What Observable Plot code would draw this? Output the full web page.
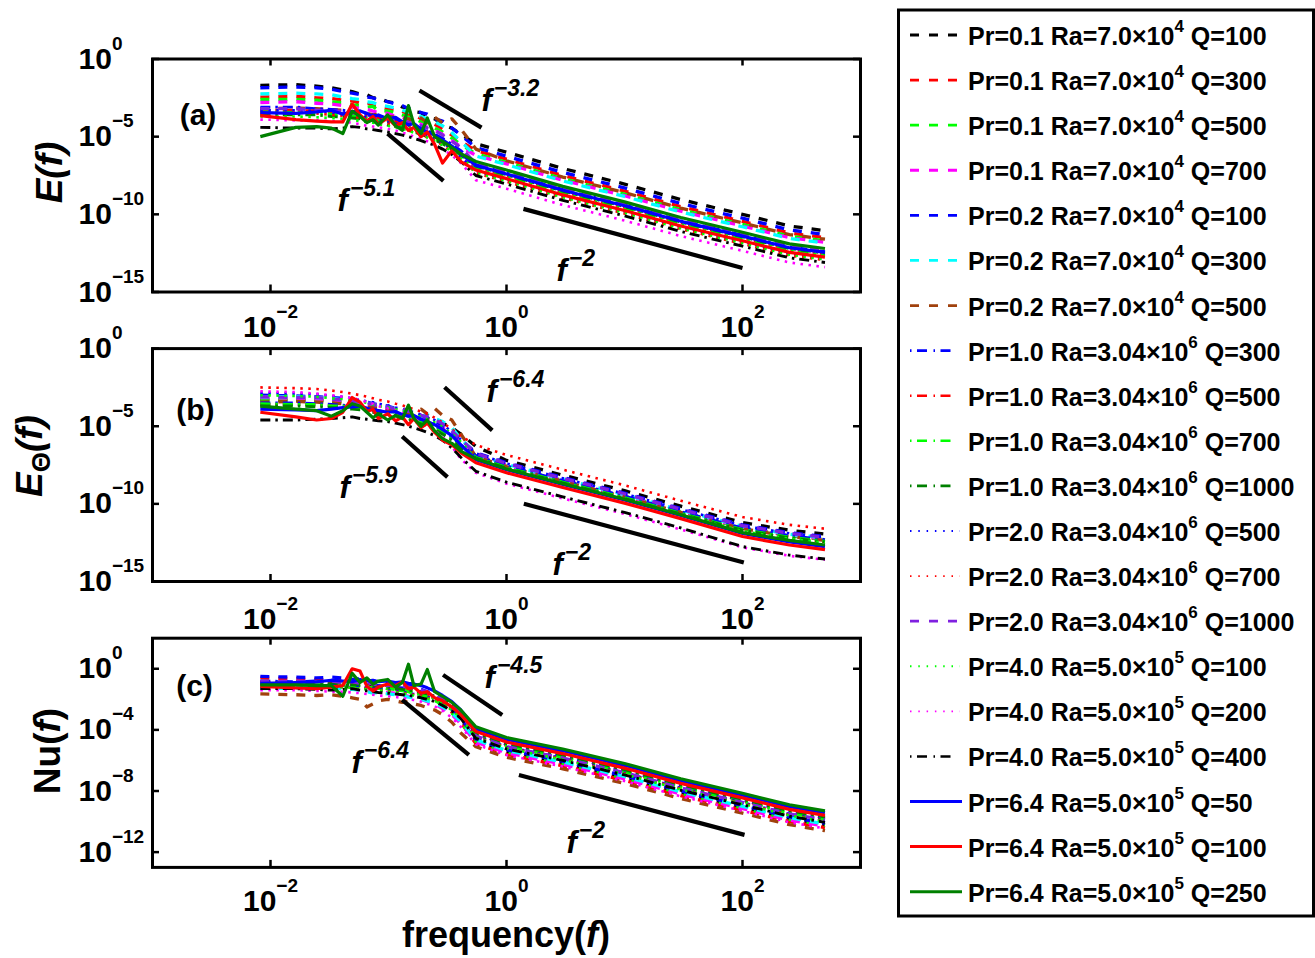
<!DOCTYPE html>
<html>
<head>
<meta charset="utf-8">
<script src="https://cdn.jsdelivr.net/npm/d3@7"></script>
<script src="https://cdn.jsdelivr.net/npm/@observablehq/plot@0.6"></script>
<style>
  html, body { margin: 0; padding: 0; background: #fff; overflow: hidden; }
  #wrap { position: relative; width: 1315px; height: 958px; font-family: "Liberation Sans", Arial, sans-serif; }
  #wrap svg { position: absolute; left: 0; overflow: visible; }
</style>
</head>
<body>
<div id="wrap"></div>
<script>
// ---------------- DATA ----------------
const freq = [0.0082, 0.0164, 0.0246, 0.0328, 0.041, 0.0492, 0.0574, 0.0656, 0.0738, 0.082, 0.0984, 0.1148, 0.1312, 0.1476, 0.164, 0.1886, 0.2132, 0.246, 0.287, 0.3444, 0.41, 0.55, 1, 3, 10, 30, 100, 250, 500];

const seriesLabels = [
  "Pr=0.1 Ra=7.0×10^4 Q=100", "Pr=0.1 Ra=7.0×10^4 Q=300", "Pr=0.1 Ra=7.0×10^4 Q=500", "Pr=0.1 Ra=7.0×10^4 Q=700",
  "Pr=0.2 Ra=7.0×10^4 Q=100", "Pr=0.2 Ra=7.0×10^4 Q=300", "Pr=0.2 Ra=7.0×10^4 Q=500",
  "Pr=1.0 Ra=3.04×10^6 Q=300", "Pr=1.0 Ra=3.04×10^6 Q=500", "Pr=1.0 Ra=3.04×10^6 Q=700", "Pr=1.0 Ra=3.04×10^6 Q=1000",
  "Pr=2.0 Ra=3.04×10^6 Q=500", "Pr=2.0 Ra=3.04×10^6 Q=700", "Pr=2.0 Ra=3.04×10^6 Q=1000",
  "Pr=4.0 Ra=5.0×10^5 Q=100", "Pr=4.0 Ra=5.0×10^5 Q=200", "Pr=4.0 Ra=5.0×10^5 Q=400",
  "Pr=6.4 Ra=5.0×10^5 Q=50", "Pr=6.4 Ra=5.0×10^5 Q=100", "Pr=6.4 Ra=5.0×10^5 Q=250"
];

// log10 of E(f) for each series (same order as labels), at the frequencies above
const logE = [
  [-1.7,-1.65,-1.75,-1.85,-2.0,-2.1,-2.25,-2.3,-2.5,-2.5,-2.75,-2.85,-3.1,-3.15,-3.4,-3.45,-3.75,-3.85,-4.25,-4.45,-4.85,-5.45,-6.0,-7.05,-8.05,-9.05,-10.0,-10.75,-11.05],
  [-2.45,-2.4,-2.5,-2.55,-2.65,-2.7,-2.85,-2.8,-3.0,-3.05,-3.2,-3.3,-3.35,-3.6,-3.55,-3.85,-3.95,-4.2,-4.5,-4.9,-5.3,-5.9,-6.45,-7.5,-8.5,-9.5,-10.45,-11.2,-11.5],
  [-2.6,-2.6,-2.65,-2.75,-2.8,-2.95,-3.0,-3.1,-3.05,-3.3,-3.35,-3.45,-3.6,-3.75,-3.8,-4.05,-4.2,-4.45,-4.7,-5.1,-5.5,-6.1,-6.65,-7.7,-8.7,-9.7,-10.65,-11.4,-11.7],
  [-2.8,-2.75,-2.85,-2.9,-3.0,-3.1,-3.2,-3.25,-3.35,-3.45,-3.5,-3.7,-3.75,-3.9,-4.05,-4.2,-4.4,-4.6,-4.85,-5.25,-5.65,-6.2,-6.75,-7.8,-8.8,-9.8,-10.75,-11.5,-11.8],
  [-1.85,-1.8,-1.85,-1.95,-2.1,-2.2,-2.3,-2.45,-2.5,-2.65,-2.75,-2.9,-3.0,-3.2,-3.25,-3.45,-3.55,-3.85,-4.0,-4.45,-4.9,-5.7,-6.25,-7.3,-8.3,-9.3,-10.25,-11.0,-11.3],
  [-2.25,-2.2,-2.25,-2.3,-2.45,-2.55,-2.6,-2.75,-2.8,-2.95,-3.05,-3.15,-3.3,-3.4,-3.55,-3.7,-3.85,-4.05,-4.3,-4.75,-5.3,-6.25,-6.8,-7.85,-8.85,-9.85,-10.8,-11.55,-11.85],
  [-3.2,-3.15,-3.2,-3.25,-3.3,-3.4,-3.45,-3.5,-3.6,-3.55,-3.7,-3.75,-3.8,-3.85,-4.0,-3.8,-4.1,-3.75,-4.1,-3.85,-4.5,-5.8,-6.55,-7.6,-8.6,-9.6,-10.55,-11.3,-11.6],
  [-3.1,-3.1,-3.2,-3.25,-3.3,-3.4,-3.35,-3.55,-3.6,-3.7,-3.75,-3.9,-4.05,-4.1,-4.3,-4.45,-4.6,-4.85,-5.1,-5.5,-5.9,-6.8,-7.35,-8.4,-9.4,-10.4,-11.35,-12.1,-12.4],
  [-3.3,-3.3,-3.35,-3.4,-3.5,-3.5,-3.6,-3.7,-3.7,-3.85,-3.95,-4.05,-4.25,-4.3,-4.5,-4.6,-4.8,-5.0,-5.3,-5.7,-6.1,-6.95,-7.5,-8.55,-9.55,-10.55,-11.5,-12.25,-12.55],
  [-3.4,-3.45,-3.45,-3.55,-3.6,-3.65,-3.7,-3.8,-3.85,-3.95,-4.05,-4.2,-4.3,-4.45,-4.6,-4.75,-4.9,-5.15,-5.4,-5.8,-6.2,-7.05,-7.6,-8.65,-9.65,-10.65,-11.6,-12.35,-12.65],
  [-3.6,-3.6,-3.6,-3.7,-3.75,-3.8,-3.85,-3.95,-4.05,-4.1,-4.25,-4.35,-4.45,-4.6,-4.7,-4.85,-5.0,-5.2,-5.45,-5.8,-6.15,-6.9,-7.45,-8.5,-9.5,-10.5,-11.45,-12.2,-12.5],
  [-3.3,-3.3,-3.35,-3.45,-3.5,-3.55,-3.65,-3.75,-3.8,-3.9,-4.05,-4.15,-4.3,-4.4,-4.55,-4.7,-4.9,-5.1,-5.4,-5.8,-6.3,-7.2,-7.75,-8.8,-9.8,-10.8,-11.75,-12.5,-12.8],
  [-3.5,-3.45,-3.5,-3.6,-3.65,-3.7,-3.8,-3.9,-3.95,-4.05,-4.15,-4.3,-4.45,-4.55,-4.7,-4.85,-5.05,-5.25,-5.55,-5.95,-6.4,-7.35,-7.9,-8.95,-9.95,-10.95,-11.9,-12.65,-12.95],
  [-3.2,-3.2,-3.3,-3.35,-3.35,-3.45,-3.55,-3.6,-3.7,-3.75,-3.8,-3.95,-3.9,-4.1,-4.1,-4.3,-4.45,-4.6,-4.9,-5.3,-5.7,-6.75,-7.3,-8.35,-9.35,-10.35,-11.3,-12.05,-12.35],
  [-3.7,-3.7,-3.75,-3.8,-3.85,-3.9,-4.0,-4.05,-4.1,-4.2,-4.3,-4.4,-4.5,-4.6,-4.75,-4.9,-5.05,-5.3,-5.55,-5.95,-6.4,-7.3,-7.85,-8.9,-9.9,-10.9,-11.85,-12.6,-12.9],
  [-3.9,-3.95,-3.95,-4.0,-4.05,-4.1,-4.2,-4.3,-4.35,-4.4,-4.5,-4.6,-4.75,-4.85,-5.0,-5.15,-5.3,-5.5,-5.8,-6.2,-6.7,-7.8,-8.35,-9.4,-10.4,-11.4,-12.35,-13.1,-13.4],
  [-4.4,-4.45,-4.45,-4.5,-4.45,-4.35,-4.4,-4.5,-4.55,-4.6,-4.7,-4.8,-4.9,-5.0,-5.1,-5.25,-5.4,-5.55,-5.8,-6.15,-6.6,-7.5,-8.05,-9.1,-10.1,-11.1,-12.05,-12.8,-13.1],
  [-3.45,-3.5,-3.4,-3.3,-3.55,-3.4,-3.35,-3.5,-3.7,-3.6,-3.85,-3.75,-4.05,-4.25,-4.15,-4.5,-4.7,-4.9,-5.2,-5.6,-6.1,-6.85,-7.4,-8.45,-9.45,-10.45,-11.4,-12.15,-12.45],
  [-3.65,-3.9,-4.0,-4.05,-4.05,-2.9,-3.6,-4.0,-3.7,-4.2,-3.8,-4.3,-4.1,-4.6,-4.4,-5.0,-4.7,-5.5,-6.7,-5.9,-6.6,-7.15,-7.7,-8.75,-9.75,-10.75,-11.7,-12.45,-12.75],
  [-5.0,-4.4,-4.35,-4.45,-4.8,-3.35,-3.7,-4.1,-3.9,-4.25,-3.6,-4.3,-4.6,-3.0,-4.2,-4.8,-3.8,-5.0,-5.3,-5.7,-6.1,-6.6,-7.15,-8.2,-9.2,-10.2,-11.15,-11.9,-12.2]
];

// log10 of E_Theta(f)
const logTheta = [
  [-3.3,-3.35,-3.3,-3.4,-3.45,-3.5,-3.6,-3.65,-3.7,-3.8,-3.9,-4.0,-4.1,-4.2,-4.3,-4.4,-4.5,-4.6,-4.8,-5.1,-5.5,-6.3,-7.2,-8.15,-9.15,-10.15,-11.2,-11.7,-11.95],
  [-3.2,-3.25,-3.3,-3.35,-3.4,-3.5,-3.55,-3.65,-3.7,-3.8,-3.9,-4.0,-4.15,-4.25,-4.35,-4.5,-4.65,-4.85,-5.15,-5.5,-6.0,-6.9,-7.55,-8.5,-9.5,-10.5,-11.55,-12.05,-12.3],
  [-3.3,-3.3,-3.35,-3.45,-3.5,-3.55,-3.65,-3.7,-3.8,-3.9,-4.0,-4.1,-4.2,-4.35,-4.45,-4.6,-4.75,-4.95,-5.2,-5.6,-6.1,-6.9,-7.55,-8.5,-9.5,-10.5,-11.55,-12.05,-12.3],
  [-3.15,-3.2,-3.25,-3.3,-3.4,-3.45,-3.55,-3.6,-3.7,-3.75,-3.9,-4.0,-4.1,-4.25,-4.35,-4.5,-4.6,-4.8,-5.1,-5.5,-6.0,-6.85,-7.5,-8.45,-9.45,-10.45,-11.5,-12.0,-12.25],
  [-3.0,-3.05,-3.1,-3.15,-3.2,-3.3,-3.35,-3.45,-3.55,-3.6,-3.7,-3.85,-3.95,-4.05,-4.2,-4.3,-4.45,-4.65,-4.95,-5.35,-5.85,-6.7,-7.35,-8.3,-9.3,-10.3,-11.35,-11.85,-12.1],
  [-3.1,-3.1,-3.15,-3.2,-3.3,-3.35,-3.45,-3.5,-3.6,-3.7,-3.75,-3.9,-4.0,-4.1,-4.2,-4.35,-4.25,-4.5,-4.7,-5.1,-5.8,-6.8,-7.45,-8.4,-9.4,-10.4,-11.45,-11.95,-12.2],
  [-3.45,-3.4,-3.45,-3.5,-3.55,-3.6,-3.7,-3.75,-3.8,-3.85,-3.95,-4.0,-4.1,-4.2,-4.1,-3.9,-4.2,-3.85,-4.3,-4.6,-5.5,-6.95,-7.6,-8.55,-9.55,-10.55,-11.6,-12.1,-12.35],
  [-3.5,-3.5,-3.55,-3.6,-3.65,-3.7,-3.75,-3.85,-3.9,-4.0,-4.1,-4.2,-4.3,-4.4,-4.5,-4.65,-4.8,-5.0,-5.3,-5.7,-6.2,-6.9,-7.55,-8.5,-9.5,-10.5,-11.55,-12.05,-12.3],
  [-3.6,-3.6,-3.65,-3.7,-3.75,-3.8,-3.85,-3.95,-4.0,-4.1,-4.2,-4.3,-4.4,-4.5,-4.65,-4.8,-4.95,-5.15,-5.45,-5.85,-6.35,-7.05,-7.7,-8.65,-9.65,-10.65,-11.7,-12.2,-12.45],
  [-3.55,-3.6,-3.6,-3.7,-3.7,-3.8,-3.85,-3.9,-4.0,-4.05,-4.15,-4.3,-4.4,-4.5,-4.6,-4.75,-4.9,-5.1,-5.4,-5.8,-6.3,-7.0,-7.65,-8.6,-9.6,-10.6,-11.65,-12.15,-12.4],
  [-3.7,-3.7,-3.75,-3.8,-3.85,-3.9,-3.95,-4.0,-4.1,-4.15,-4.25,-4.35,-4.45,-4.55,-4.7,-4.85,-5.0,-5.2,-5.5,-5.9,-6.4,-7.05,-7.7,-8.65,-9.65,-10.65,-11.7,-12.2,-12.45],
  [-2.85,-2.9,-2.95,-3.05,-3.1,-3.2,-3.3,-3.4,-3.45,-3.55,-3.65,-3.8,-3.9,-4.0,-4.1,-4.25,-4.4,-4.6,-4.9,-5.35,-5.85,-6.75,-7.4,-8.35,-9.35,-10.35,-11.4,-11.9,-12.15],
  [-2.5,-2.55,-2.6,-2.7,-2.8,-2.9,-3.0,-3.1,-3.2,-3.3,-3.4,-3.55,-3.65,-3.8,-3.9,-4.05,-4.2,-4.45,-4.75,-5.2,-5.65,-6.2,-6.85,-7.8,-8.8,-9.8,-10.85,-11.35,-11.6],
  [-3.1,-3.15,-3.15,-3.25,-3.3,-3.4,-3.45,-3.5,-3.6,-3.65,-3.75,-3.9,-3.85,-4.05,-4.1,-4.3,-4.4,-4.55,-4.85,-5.3,-5.85,-6.75,-7.4,-8.35,-9.35,-10.35,-11.4,-11.9,-12.15],
  [-3.0,-3.05,-3.1,-3.2,-3.25,-3.35,-3.4,-3.5,-3.6,-3.7,-3.8,-3.9,-4.0,-4.15,-4.25,-4.4,-4.55,-4.75,-5.05,-5.5,-6.0,-7.1,-7.75,-8.7,-9.7,-10.7,-11.75,-12.25,-12.5],
  [-2.75,-2.8,-2.9,-3.0,-3.1,-3.2,-3.3,-3.45,-3.55,-3.7,-3.85,-4.0,-4.15,-4.3,-4.5,-4.7,-4.95,-5.25,-5.7,-6.3,-7.1,-8.0,-8.7,-9.65,-10.65,-11.65,-12.8,-13.35,-13.6],
  [-4.6,-4.6,-4.55,-4.5,-4.45,-4.4,-4.5,-4.55,-4.6,-4.65,-4.7,-4.8,-4.9,-5.0,-5.1,-5.25,-5.4,-5.6,-5.9,-6.4,-7.0,-7.9,-8.6,-9.55,-10.55,-11.55,-12.75,-13.3,-13.55],
  [-3.9,-3.95,-4.0,-3.9,-3.8,-3.75,-3.7,-3.85,-3.95,-4.0,-4.1,-4.05,-4.25,-4.35,-4.3,-4.55,-4.7,-4.9,-5.2,-5.6,-6.2,-7.15,-7.8,-8.75,-9.75,-10.75,-11.9,-12.45,-12.75],
  [-4.1,-4.4,-4.6,-4.5,-4.1,-3.15,-3.45,-4.05,-3.9,-4.5,-4.2,-4.65,-4.4,-4.9,-4.5,-5.1,-4.8,-5.4,-5.9,-6.2,-6.7,-7.35,-8.0,-8.95,-9.95,-10.95,-12.1,-12.65,-12.95],
  [-3.7,-3.9,-4.0,-4.35,-4.0,-3.55,-3.7,-4.1,-4.45,-4.2,-4.6,-4.3,-4.5,-3.65,-4.5,-5.0,-4.6,-5.3,-5.8,-6.1,-6.6,-7.1,-7.75,-8.7,-9.7,-10.7,-11.85,-12.35,-12.65]
];

// log10 of Nu(f)
const logNu = [
  [-0.9,-0.85,-0.9,-0.95,-0.85,-0.9,-1.0,-0.95,-1.05,-1.0,-1.1,-1.15,-1.2,-1.3,-1.35,-1.45,-1.6,-1.85,-2.2,-2.7,-3.3,-4.7,-5.4,-6.15,-7.1,-8.1,-9.05,-9.8,-10.2],
  [-0.6,-0.65,-0.7,-0.75,-0.8,-0.85,-0.95,-0.9,-1.0,-1.05,-1.1,-1.2,-1.25,-1.3,-1.4,-1.5,-1.7,-1.95,-2.3,-2.85,-3.5,-4.9,-5.6,-6.35,-7.3,-8.3,-9.25,-10.0,-10.4],
  [-1.1,-1.0,-0.95,-1.0,-1.1,-1.05,-1.15,-1.2,-1.25,-1.2,-1.3,-1.35,-1.4,-1.5,-1.6,-1.7,-1.85,-2.05,-2.4,-2.9,-3.5,-4.75,-5.45,-6.2,-7.15,-8.15,-9.1,-9.85,-10.25],
  [-1.2,-1.15,-1.2,-1.25,-1.3,-1.25,-1.35,-1.4,-1.45,-1.5,-1.55,-1.6,-1.7,-1.8,-1.9,-2.0,-2.15,-2.3,-2.6,-3.0,-3.6,-4.8,-5.5,-6.25,-7.2,-8.2,-9.15,-9.9,-10.3],
  [-0.5,-0.55,-0.6,-0.55,-0.6,-0.7,-0.65,-0.75,-0.8,-0.85,-0.9,-0.95,-1.0,-1.1,-1.2,-1.35,-1.5,-1.75,-2.1,-2.6,-3.2,-4.6,-5.3,-6.05,-7.0,-8.0,-8.95,-9.7,-10.1],
  [-1.3,-1.25,-1.2,-1.25,-1.3,-1.35,-1.4,-1.5,-1.6,-1.55,-1.65,-1.7,-1.75,-1.85,-1.9,-2.0,-2.1,-2.25,-2.5,-2.9,-3.45,-4.65,-5.35,-6.1,-7.05,-8.05,-9.0,-9.75,-10.15],
  [-1.65,-1.7,-1.75,-1.7,-1.8,-1.9,-2.0,-2.5,-2.3,-2.1,-2.0,-2.1,-2.2,-2.15,-2.3,-2.4,-2.55,-2.7,-3.0,-3.5,-4.2,-5.1,-5.8,-6.55,-7.5,-8.5,-9.45,-10.2,-10.6],
  [-0.8,-0.85,-0.8,-0.9,-0.85,-0.9,-0.95,-1.0,-1.05,-1.1,-1.15,-1.2,-1.25,-1.35,-1.45,-1.5,-1.65,-1.8,-2.05,-2.4,-2.9,-4.25,-4.95,-5.7,-6.65,-7.65,-8.6,-9.35,-9.75],
  [-0.9,-0.95,-0.9,-1.0,-0.95,-1.0,-1.05,-1.1,-1.15,-1.2,-1.25,-1.3,-1.35,-1.45,-1.5,-1.6,-1.75,-1.9,-2.15,-2.5,-3.0,-4.3,-5.0,-5.75,-6.7,-7.7,-8.65,-9.4,-9.8],
  [-1.0,-1.0,-1.05,-1.05,-1.1,-1.15,-1.15,-1.2,-1.25,-1.3,-1.35,-1.4,-1.45,-1.5,-1.6,-1.7,-1.8,-1.95,-2.2,-2.55,-3.05,-4.35,-5.05,-5.8,-6.75,-7.75,-8.7,-9.45,-9.85],
  [-0.95,-0.9,-0.95,-1.0,-1.0,-1.05,-1.1,-1.1,-1.15,-1.2,-1.2,-1.3,-1.35,-1.4,-1.45,-1.55,-1.65,-1.8,-2.05,-2.35,-2.85,-4.2,-4.9,-5.65,-6.6,-7.6,-8.55,-9.3,-9.7],
  [-1.0,-1.05,-1.1,-1.1,-1.15,-1.2,-1.2,-1.25,-1.3,-1.35,-1.4,-1.45,-1.5,-1.6,-1.65,-1.75,-1.85,-2.0,-2.25,-2.6,-3.1,-4.4,-5.1,-5.85,-6.8,-7.8,-8.75,-9.5,-9.9],
  [-1.05,-1.1,-1.1,-1.15,-1.2,-1.25,-1.3,-1.3,-1.35,-1.4,-1.45,-1.5,-1.55,-1.65,-1.7,-1.8,-1.9,-2.05,-2.3,-2.65,-3.15,-4.45,-5.15,-5.9,-6.85,-7.85,-8.8,-9.55,-9.95],
  [-0.85,-0.8,-0.85,-0.8,-0.9,-0.85,-0.95,-0.9,-1.0,-1.05,-1.1,-1.0,-1.15,-1.2,-1.3,-1.4,-1.5,-1.7,-1.95,-2.35,-2.9,-4.4,-5.1,-5.85,-6.8,-7.8,-8.75,-9.5,-9.9],
  [-1.1,-1.1,-1.15,-1.2,-1.2,-1.25,-1.3,-1.35,-1.4,-1.4,-1.5,-1.55,-1.6,-1.7,-1.75,-1.85,-1.95,-2.1,-2.35,-2.7,-3.2,-4.5,-5.2,-5.95,-6.9,-7.9,-8.85,-9.6,-10.0],
  [-1.4,-1.4,-1.45,-1.5,-1.5,-1.55,-1.6,-1.65,-1.7,-1.75,-1.8,-1.85,-1.9,-2.0,-2.05,-2.15,-2.3,-2.45,-2.75,-3.2,-3.8,-4.95,-5.65,-6.4,-7.35,-8.35,-9.3,-10.05,-10.45],
  [-1.3,-1.3,-1.35,-1.4,-1.35,-1.3,-1.4,-1.45,-1.5,-1.55,-1.6,-1.65,-1.7,-1.75,-1.8,-1.9,-2.0,-2.15,-2.4,-2.75,-3.25,-4.55,-5.25,-6.0,-6.95,-7.95,-8.9,-9.65,-10.05],
  [-0.95,-0.9,-0.85,-0.75,-0.8,-0.85,-0.7,-0.8,-0.75,-0.85,-0.8,-0.9,-0.85,-0.95,-1.0,-1.1,-1.25,-1.45,-1.75,-2.15,-2.7,-3.92,-4.62,-5.37,-6.32,-7.32,-8.27,-9.02,-9.42],
  [-1.15,-1.25,-1.3,-1.2,-1.1,0.0,-0.15,-1.15,-1.45,-1.2,-1.0,-1.1,-0.85,-1.3,-1.2,-1.6,-1.5,-1.9,-2.1,-2.5,-3.0,-4.1,-4.8,-5.55,-6.5,-7.5,-8.45,-9.2,-9.6],
  [-1.05,-1.05,-1.1,-1.1,-1.8,-0.3,-0.9,-0.6,-1.0,-0.8,-0.7,-1.2,-0.9,0.3,-1.1,-1.0,-0.05,-1.5,-1.8,-2.2,-2.7,-3.8,-4.5,-5.25,-6.2,-7.2,-8.15,-8.9,-9.3]
];

const xTickValues = [1e-2, 1, 1e2];
const yTicksE = [1, 1e-5, 1e-10, 1e-15];
const yTicksTheta = [1, 1e-5, 1e-10, 1e-15];
const yTicksNu = [1, 1e-4, 1e-8, 1e-12];

// guide lines: start (f1, log10 y1) -> end (f2, log10 y2); label anchored at (lf, log10 le)
const guidesE = [
  {name: "f^-3.2", f1: 0.183, e1: -2.03, f2: 0.614, e2: -4.42, lf: 0.614, le: -3.32},
  {name: "f^-5.1", f1: 0.0982, e1: -4.81, f2: 0.292, e2: -7.84, lf: 0.037, le: -9.77},
  {name: "f^-2", f1: 1.393, e1: -9.65, f2: 100, e2: -13.45, lf: 2.65, le: -14.29}
];
const guidesTheta = [
  {name: "f^-6.4", f1: 0.2985, e1: -2.49, f2: 0.757, e2: -5.27, lf: 0.678, le: -3.47},
  {name: "f^-5.9", f1: 0.1306, e1: -5.66, f2: 0.316, e2: -8.28, lf: 0.0385, le: -9.65},
  {name: "f^-2", f1: 1.403, e1: -9.99, f2: 102.6, e2: -13.78, lf: 2.455, le: -14.6}
];
const guidesNu = [
  {name: "f^-4.5", f1: 0.290, e1: -0.40, f2: 0.920, e2: -3.02, lf: 0.652, le: -1.25},
  {name: "f^-6.4", f1: 0.1306, e1: -2.04, f2: 0.480, e2: -5.64, lf: 0.0485, le: -6.82},
  {name: "f^-2", f1: 1.274, e1: -6.95, f2: 104, e2: -10.87, lf: 3.22, le: -12.05}
];

const panelTags = [
  {label: "(a)", f: 0.00243, e: -3.65},
  {label: "(b)", f: 0.00231, e: -3.95},
  {label: "(c)", f: 0.00227, e: -1.15}
];

// ---------------- STYLES ----------------
const seriesColors = ["#000000","#ff0000","#00ff00","#ff00ff","#0000ff","#00ffff","#a0410d",
  "#0000ff","#ff0000","#00ff00","#008000","#0000ff","#ff0000","#8020e0",
  "#00ff00","#ff00ff","#000000","#0000ff","#ff0000","#008000"];
const seriesKind = ["dash","dash","dash","dash","dash","dash","dash",
  "dashdot","dashdot","dashdot","dashdot","dot","dot","dash",
  "dot","dot","dashdot","solid","solid","solid"];
const plotLine = {
  dash: {dash: "9,9", width: 3.3},
  solid: {dash: null, width: 3.2},
  dashdot: {dash: "10,5,2.5,5", width: 2.9},
  dot: {dash: "2.5,5.5", width: 2.6}
};
const legendLine = {
  dash: {dash: "9,10", width: 2.8, len: 47},
  solid: {dash: null, width: 3, len: 52},
  dashdot: {dash: "1.5,5.5,10,6.5", width: 2.6, len: 47},
  dot: {dash: "1.5,6.8", width: 1.8, len: 50}
};

const FONT = "'Liberation Sans', Arial, Helvetica, sans-serif";
const NS = "http://www.w3.org/2000/svg";
const wrap = document.getElementById("wrap");

function supify(root) {
  root.querySelectorAll("text").forEach(t => {
    const s = t.textContent;
    const i = s.indexOf("^");
    if (i < 0) return;
    const base = s.slice(0, i);
    const exp = s.slice(i + 1).replace(/-/g, "\u2212");
    const isAnno = base === "f";
    while (t.firstChild) t.removeChild(t.firstChild);
    const a = document.createElementNS(NS, "tspan");
    a.textContent = base;
    t.appendChild(a);
    const b = document.createElementNS(NS, "tspan");
    b.setAttribute("dy", isAnno ? -15 : -19);
    b.setAttribute("font-size", isAnno ? 23 : 19);
    if (isAnno) b.setAttribute("dx", 2);
    b.textContent = exp;
    t.appendChild(b);
  });
}

function makePanel(cfg) {
  const W = 900, ML = 152, MR = 40;
  const innerW = W - ML - MR;
  const innerH = cfg.height - cfg.mt - cfg.mb;
  const marks = [];
  cfg.values.forEach((vals, i) => {
    const rows = vals.map((e, j) => ({f: freq[j], v: Math.pow(10, e)}));
    const st = plotLine[seriesKind[i]];
    const opts = {x: "f", y: "v", stroke: seriesColors[i], strokeWidth: st.width, strokeLinecap: "butt", strokeLinejoin: "round"};
    if (st.dash) opts.strokeDasharray = st.dash;
    marks.push(Plot.line(rows, opts));
  });
  cfg.guides.forEach(g => {
    marks.push(Plot.line([{f: g.f1, v: Math.pow(10, g.e1)}, {f: g.f2, v: Math.pow(10, g.e2)}],
      {x: "f", y: "v", stroke: "black", strokeWidth: 4.2, strokeLinecap: "butt"}));
  });
  marks.push(Plot.text(cfg.guides, {x: "lf", y: d => Math.pow(10, d.le), text: "name", textAnchor: "start", lineAnchor: "bottom",
    fontSize: 31, fontWeight: "bold", fontStyle: "italic", fontFamily: FONT, fill: "black"}));
  marks.push(Plot.text([cfg.tag], {x: "f", y: d => Math.pow(10, d.e), text: "label", fontSize: 30, fontWeight: "bold", fontFamily: FONT, fill: "black"}));
  marks.push(Plot.frame({stroke: "black", strokeWidth: 3}));
  marks.push(Plot.tickX(xTickValues, {x: d => d, stroke: "black", strokeWidth: 2.5, insetTop: innerH - 7}));
  marks.push(Plot.tickX(xTickValues, {x: d => d, stroke: "black", strokeWidth: 2.5, insetBottom: innerH - 7}));
  marks.push(Plot.tickY(cfg.yTicks, {y: d => d, stroke: "black", strokeWidth: 2.5, insetRight: innerW - 7}));
  marks.push(Plot.tickY(cfg.yTicks, {y: d => d, stroke: "black", strokeWidth: 2.5, insetLeft: innerW - 7}));
  marks.push(Plot.text(xTickValues, {x: d => d, text: d => "10^" + Math.round(Math.log10(d)), frameAnchor: "bottom", dy: cfg.xdy,
    lineAnchor: "middle", fontSize: 30, fontWeight: "bold", fontFamily: FONT, fill: "black"}));
  marks.push(Plot.text(cfg.yTicks, {y: d => d, text: d => "10^" + Math.round(Math.log10(d)), frameAnchor: "left", dx: -74,
    textAnchor: "start", lineAnchor: "middle", fontSize: 30, fontWeight: "bold", fontFamily: FONT, fill: "black"}));

  const svg = Plot.plot({
    width: W, height: cfg.height,
    marginLeft: ML, marginRight: MR, marginTop: cfg.mt, marginBottom: cfg.mb,
    x: {type: "log", domain: [1e-3, 1e3], axis: null},
    y: {type: "log", domain: cfg.yDomain, axis: null},
    style: {fontFamily: FONT, background: "transparent", overflow: "visible"},
    marks
  });
  supify(svg);
  svg.style.position = "absolute";
  svg.style.left = "0px";
  svg.style.top = cfg.top + "px";
  wrap.appendChild(svg);
}

makePanel({top: 0, height: 335, mt: 58.5, mb: 43.5, yDomain: [1e-15, 1], yTicks: yTicksE, values: logE, guides: guidesE, tag: panelTags[0], xdy: 35});
makePanel({top: 335, height: 290, mt: 13.1, mb: 44, yDomain: [1e-15, 1], yTicks: yTicksTheta, values: logTheta, guides: guidesTheta, tag: panelTags[1], xdy: 38});
makePanel({top: 625, height: 333, mt: 12.7, mb: 91.1, yDomain: [1e-13, 1e2], yTicks: yTicksNu, values: logNu, guides: guidesNu, tag: panelTags[2], xdy: 34});

// ---------------- OVERLAY: axis titles and legend ----------------
const ov = d3.create("svg").attr("width", 1315).attr("height", 958)
  .style("position", "absolute").style("left", "0px").style("top", "0px")
  .attr("font-family", FONT).attr("font-weight", "bold");

function title(x, y, rotate, parts, size) {
  const t = ov.append("text").attr("text-anchor", "middle").attr("font-size", size)
    .attr("transform", `translate(${x},${y})` + (rotate ? " rotate(-90)" : ""));
  parts.forEach(p => {
    const s = t.append("tspan").text(p.t);
    if (p.i) s.attr("font-style", "italic");
    if (p.size) s.attr("font-size", p.size);
    if (p.dy) s.attr("dy", p.dy);
  });
}
title(62, 172.5, true, [{t: "E", i: 1}, {t: "(", i: 1}, {t: "f", i: 1}, {t: ")", i: 1}], 37);
title(42, 456, true, [{t: "E", i: 1}, {t: "\u0398", size: 26, dy: 8}, {t: "(", dy: -8, i: 1}, {t: "f", i: 1}, {t: ")", i: 1}], 37);
title(60, 751, true, [{t: "Nu("}, {t: "f", i: 1}, {t: ")"}], 37);
title(506, 947, false, [{t: "frequency("}, {t: "f", i: 1}, {t: ")"}], 36);

// legend
const lg = ov.append("g");
lg.append("rect").attr("x", 898.5).attr("y", 10).attr("width", 415).attr("height", 906)
  .attr("fill", "white").attr("stroke", "black").attr("stroke-width", 3);
seriesLabels.forEach((lab, i) => {
  const yl = 35 + 45.09 * i;
  const st = legendLine[seriesKind[i]];
  const ln = lg.append("line").attr("x1", 910).attr("x2", 910 + st.len).attr("y1", yl).attr("y2", yl)
    .attr("stroke", seriesColors[i]).attr("stroke-width", st.width).attr("stroke-linecap", "butt");
  if (st.dash) ln.attr("stroke-dasharray", st.dash);
  const m = lab.match(/^(.*?)\^(\S+)(.*)$/);
  const t = lg.append("text").attr("x", 968).attr("y", yl + 10).attr("font-size", 25).attr("fill", "black");
  t.append("tspan").text(m[1]);
  t.append("tspan").attr("dy", -13).attr("font-size", 17).text(m[2]);
  t.append("tspan").attr("dy", 13).text(m[3]);
});

wrap.appendChild(ov.node());
</script>
</body>
</html>
